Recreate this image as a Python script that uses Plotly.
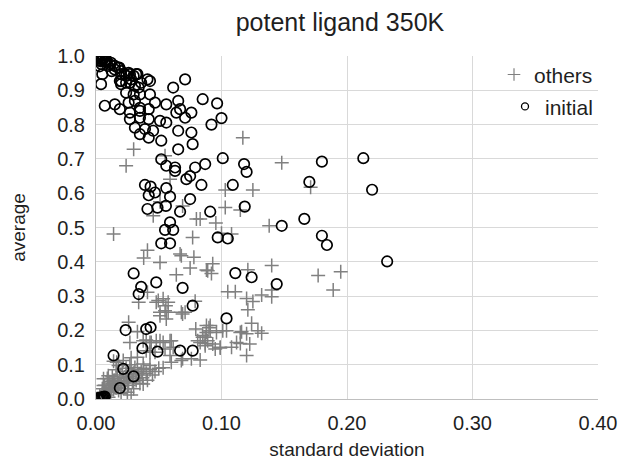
import plotly.graph_objects as go

# ---- data: series "initial" (open circles) ----
initial_x = [
    0.001, 0.002, 0.003, 0.004, 0.002, 0.005, 0.006, 0.001, 0.003, 0.007, 0.004, 0.008,
    0.003, 0.005, 0.004, 0.0085, 0.011, 0.015, 0.0186, 0.0125, 0.020, 0.024, 0.027, 0.032,
    0.019, 0.020, 0.027, 0.031, 0.034, 0.043, 0.071, 0.0615, 0.024, 0.035, 0.043, 0.031,
    0.026, 0.007, 0.015, 0.019, 0.035, 0.047, 0.056, 0.0655, 0.085, 0.027, 0.035, 0.042,
    0.064, 0.067, 0.076, 0.071, 0.027, 0.035, 0.042, 0.051, 0.056, 0.031, 0.039, 0.0455,
    0.035, 0.042, 0.052, 0.0655, 0.076, 0.077, 0.0655, 0.052, 0.056, 0.063, 0.079, 0.087,
    0.092, 0.0965, 0.100, 0.101, 0.118,
    0.0044, 0.0071, 0.0095, 0.012, 0.0149, 0.0175, 0.020, 0.0228, 0.026, 0.030, 0.033,
    0.028, 0.024, 0.020, 0.036, 0.041, 0.030,
    0.120, 0.180, 0.213, 0.084, 0.109, 0.170, 0.220, 0.091, 0.1185, 0.148, 0.166, 0.097,
    0.105, 0.180, 0.184, 0.232, 0.111, 0.124, 0.144, 0.104,
    0.063, 0.072, 0.075, 0.039, 0.0435, 0.047, 0.042, 0.056, 0.059, 0.075, 0.041, 0.049,
    0.0557, 0.067, 0.059, 0.055, 0.0615, 0.052, 0.059, 0.030, 0.048, 0.036, 0.069,
    0.034, 0.077, 0.0236, 0.040, 0.0435, 0.037, 0.049, 0.067, 0.077, 0.014, 0.0217, 0.030,
    0.019,
    0.001, 0.002, 0.003, 0.004, 0.005, 0.006, 0.002, 0.007,
]
initial_y = [
    0.998, 0.996, 0.999, 0.994, 0.992, 0.990, 0.993, 0.995, 0.988, 0.987, 0.984, 0.990,
    0.970, 0.947, 0.918, 0.985, 0.976, 0.971, 0.966, 0.956, 0.947, 0.942, 0.947, 0.947,
    0.927, 0.918, 0.922, 0.913, 0.908, 0.927, 0.932, 0.908, 0.893, 0.888, 0.888, 0.869,
    0.864, 0.855, 0.859, 0.845, 0.849, 0.864, 0.859, 0.869, 0.874, 0.835, 0.840, 0.845,
    0.835, 0.845, 0.835, 0.820, 0.816, 0.820, 0.816, 0.811, 0.806, 0.791, 0.787, 0.782,
    0.772, 0.762, 0.753, 0.782, 0.777, 0.743, 0.728, 0.699, 0.680, 0.675, 0.675, 0.685,
    0.800, 0.862, 0.819, 0.702, 0.685,
    0.976, 0.985, 0.971, 0.980, 0.961, 0.966, 0.956, 0.947, 0.951, 0.942, 0.947,
    0.932, 0.922, 0.927, 0.922, 0.932, 0.888,
    0.662, 0.692, 0.702, 0.624, 0.624, 0.633, 0.610, 0.546, 0.561, 0.505, 0.525, 0.471,
    0.468, 0.476, 0.449, 0.401, 0.367, 0.355, 0.335, 0.235,
    0.665, 0.641, 0.650, 0.624, 0.619, 0.602, 0.594, 0.615, 0.590, 0.583, 0.554, 0.558,
    0.563, 0.546, 0.515, 0.493, 0.493, 0.454, 0.454, 0.366, 0.340, 0.327, 0.324,
    0.306, 0.272, 0.201, 0.204, 0.209, 0.148, 0.138, 0.141, 0.141, 0.127, 0.088, 0.066,
    0.032,
    0.001, 0.002, 0.003, 0.004, 0.005, 0.006, 0.002, 0.007,
]

# ---- data: series "others" (plus signs) ----
others_x = [
    0.030, 0.024, 0.055, 0.117, 0.148, 0.103, 0.125, 0.171, 0.103, 0.115, 0.083, 0.0955,
    0.138, 0.108, 0.100, 0.093, 0.089, 0.092, 0.121, 0.140, 0.177, 0.195, 0.189, 0.105,
    0.111, 0.120, 0.125, 0.132, 0.140, 0.140, 0.121, 0.124, 0.129, 0.132, 0.116, 0.101,
    0.096, 0.091, 0.088, 0.085, 0.087, 0.095, 0.099, 0.108, 0.115, 0.120, 0.083,
    0.059, 0.051, 0.0456, 0.069, 0.080, 0.014, 0.077, 0.041, 0.038, 0.067, 0.068, 0.078,
    0.051, 0.075, 0.088, 0.064,
    0.034, 0.041, 0.048, 0.0535, 0.0557, 0.051, 0.0575, 0.056, 0.071, 0.079, 0.026, 0.033,
    0.027, 0.040, 0.044, 0.051, 0.059, 0.0615, 0.043, 0.087, 0.087, 0.083, 0.090, 0.0165,
    0.0217, 0.028, 0.033, 0.0376, 0.043, 0.0535, 0.060, 0.068, 0.076,
    0.0496, 0.0575, 0.055, 0.051, 0.068, 0.069,
    0.088, 0.091, 0.085, 0.081, 0.089, 0.093, 0.099, 0.104, 0.0795, 0.115, 0.120, 0.1225,
    0.112,
    0.0376, 0.043, 0.048, 0.0535, 0.060, 0.040, 0.047, 0.055, 0.059, 0.069,
    0.006, 0.0098, 0.0138, 0.0244, 0.032, 0.0376, 0.006, 0.011,
    0.003, 0.005, 0.006, 0.008, 0.008, 0.010, 0.010, 0.012, 0.012, 0.013, 0.014, 0.015,
    0.015, 0.016, 0.017, 0.018, 0.018, 0.019, 0.020, 0.020, 0.021, 0.022, 0.022, 0.023,
    0.024, 0.024, 0.025, 0.026, 0.027, 0.027, 0.028, 0.029, 0.030, 0.031, 0.032, 0.033,
    0.034, 0.035, 0.036, 0.037, 0.038, 0.040, 0.041, 0.043, 0.045, 0.047, 0.050, 0.010,
    0.007, 0.011, 0.013, 0.016, 0.009, 0.018, 0.014, 0.005, 0.020, 0.025, 0.030, 0.028,
]
others_y = [
    0.728, 0.680, 0.709, 0.762, 0.689, 0.609, 0.609, 0.617, 0.558, 0.551, 0.525, 0.513,
    0.505, 0.481, 0.483, 0.394, 0.374, 0.366, 0.377, 0.389, 0.360, 0.371, 0.318, 0.313,
    0.313, 0.293, 0.284, 0.303, 0.298, 0.318, 0.260, 0.221, 0.199, 0.192, 0.196, 0.199,
    0.194, 0.214, 0.194, 0.180, 0.162, 0.146, 0.151, 0.151, 0.162, 0.127, 0.114,
    0.641, 0.575, 0.534, 0.563, 0.525, 0.481, 0.471, 0.434, 0.411, 0.423, 0.418, 0.413,
    0.398, 0.382, 0.376, 0.362,
    0.282, 0.311, 0.282, 0.292, 0.272, 0.253, 0.253, 0.233, 0.253, 0.285, 0.224, 0.196,
    0.165, 0.172, 0.165, 0.170, 0.170, 0.151, 0.136, 0.155, 0.180, 0.165, 0.208, 0.107,
    0.112, 0.120, 0.122, 0.102, 0.0975, 0.091, 0.107, 0.112, 0.117,
    0.287, 0.282, 0.257, 0.243, 0.253, 0.248,
    0.214, 0.199, 0.185, 0.170, 0.170, 0.160, 0.149, 0.199, 0.204, 0.194, 0.190, 0.160,
    0.165,
    0.170, 0.165, 0.170, 0.165, 0.170, 0.141, 0.136, 0.146, 0.127, 0.117,
    0.059, 0.068, 0.054, 0.063, 0.054, 0.044, 0.039, 0.034,
    0.010, 0.015, 0.020, 0.012, 0.025, 0.030, 0.018, 0.035, 0.022, 0.045, 0.028, 0.040,
    0.055, 0.033, 0.060, 0.045, 0.025, 0.070, 0.052, 0.038, 0.080, 0.062, 0.030, 0.047,
    0.090, 0.072, 0.055, 0.040, 0.100, 0.065, 0.082, 0.050, 0.075, 0.092, 0.060, 0.085,
    0.070, 0.045, 0.080, 0.062, 0.090, 0.075, 0.055, 0.085, 0.070, 0.080, 0.090, 0.005,
    0.040, 0.050, 0.065, 0.085, 0.060, 0.098, 0.110, 0.030, 0.015, 0.020, 0.030, 0.012,
]

x_ticks = [0.0, 0.1, 0.2, 0.3, 0.4]
x_tick_labels = ["0.00", "0.10", "0.20", "0.30", "0.40"]
y_ticks = [0.0, 0.1, 0.2, 0.3, 0.4, 0.5, 0.6, 0.7, 0.8, 0.9, 1.0]
y_tick_labels = ["0.0", "0.1", "0.2", "0.3", "0.4", "0.5", "0.6", "0.7", "0.8", "0.9", "1.0"]

FONT = "Liberation Sans, Arial, sans-serif"
TXT = "#1f1f1f"
GRID = "#d9d9d9"

fig = go.Figure()
fig.add_trace(go.Scatter(
    x=others_x, y=others_y, mode="markers", name="others", showlegend=False,
    marker=dict(symbol="cross-thin", size=10, color="#808080",
                line=dict(color="#808080", width=1.5)),
))
fig.add_trace(go.Scatter(
    x=initial_x, y=initial_y, mode="markers", name="initial", showlegend=False,
    marker=dict(symbol="circle-open", size=10.5, color="#000000",
                line=dict(color="#000000", width=1.7)),
))
# legend-only entries (smaller symbols, like the reference)
fig.add_trace(go.Scatter(
    x=[None], y=[None], mode="markers", name="others", legend="legend",
    marker=dict(symbol="cross-thin", size=9, color="#808080",
                line=dict(color="#808080", width=1.2)),
))
fig.add_trace(go.Scatter(
    x=[None], y=[None], mode="markers", name="initial", legend="legend2",
    marker=dict(symbol="circle-open", size=7, color="#000000",
                line=dict(color="#000000", width=1.3)),
))

legend_common = dict(
    xref="paper", yref="paper", xanchor="right", yanchor="middle",
    bgcolor="rgba(0,0,0,0)", font=dict(family=FONT, size=21, color=TXT),
    itemwidth=30, borderwidth=0,
)

# the page body adds an 8px offset; the figure is sized to fill the rest of the window
fig.update_layout(
    template="none",
    width=622, height=460,
    margin=dict(l=88, r=32, t=48, b=69, autoexpand=False),
    paper_bgcolor="white", plot_bgcolor="white",
    title=dict(text="potent ligand 350K", x=0.486, xref="paper", xanchor="center",
               y=0.97, yref="container", yanchor="middle",
               font=dict(family=FONT, size=25, color=TXT)),
    legend=dict(x=1.0, y=0.945, **legend_common),
    legend2=dict(x=1.0, y=0.852, **legend_common),
    font=dict(family=FONT, size=19, color=TXT),
)
fig.update_xaxes(
    range=[0, 0.4], tickvals=x_ticks, ticktext=x_tick_labels,
    showgrid=True, gridcolor=GRID, gridwidth=1,
    showline=True, linecolor="#bfbfbf", linewidth=1, zeroline=False,
    ticks="", ticklabelstandoff=6, automargin=False,
    tickfont=dict(family=FONT, size=20, color=TXT),
    title=dict(text="standard deviation", standoff=9,
               font=dict(family=FONT, size=19, color=TXT)),
)
fig.update_yaxes(
    range=[0, 1.0], tickvals=y_ticks, ticktext=y_tick_labels,
    showgrid=True, gridcolor=GRID, gridwidth=1,
    showline=True, linecolor="#bfbfbf", linewidth=1, zeroline=False,
    ticks="", ticklabelstandoff=6, automargin=False,
    tickfont=dict(family=FONT, size=20, color=TXT),
    title=dict(text="average", standoff=28,
               font=dict(family=FONT, size=19, color=TXT)),
)

fig.write_html("out.html")
